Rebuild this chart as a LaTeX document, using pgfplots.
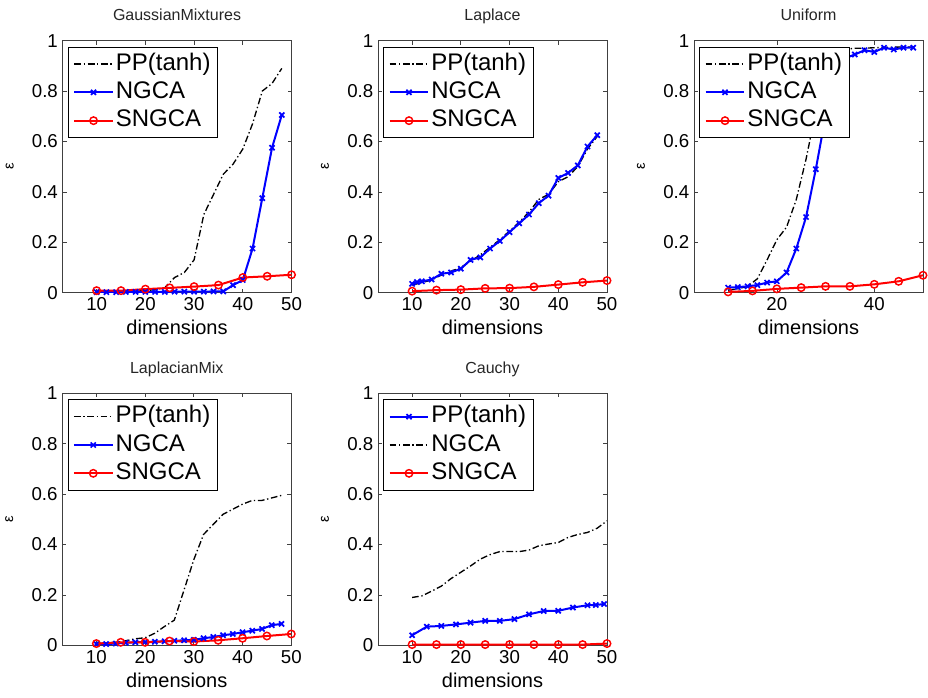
\documentclass[border=0pt]{standalone}
\usepackage{pgfplots}
\pgfplotsset{compat=1.18}
\usepackage{fontspec}
\setmainfont{Liberation Sans}

\pgfplotsset{
  myaxis/.style={
    scale only axis, width=171.75pt, height=189pt,
    xmin=3, xmax=50, ymin=0, ymax=1,
    xtick={10,20,30,40,50}, ytick={0,0.2,0.4,0.6,0.8,1},
    tick align=inside, major tick length=3pt,
    axis line style={line width=0.5pt, black!75},
    tick style={line width=0.5pt, black!75},
    /pgf/number format/assume math mode=true,
    tick label style={font=\fontsize{14}{16}\selectfont},
    xlabel={dimensions}, ylabel={ε},
    xlabel style={font=\fontsize{15}{17}\selectfont, at={(axis description cs:0.5,0)}, anchor=north, inner sep=0pt, yshift=-20.5pt},
    ylabel style={font=\fontsize{11}{13}\selectfont, at={(axis description cs:-0.231,0.5)}, anchor=center},
    title style={font=\fontsize{12}{14}\selectfont, text=black!85, at={(axis description cs:0.5,1)}, anchor=base, inner sep=0pt, yshift=9pt},
    legend style={at={(axis description cs:0,1)}, anchor=north west, xshift=4pt, yshift=-4.5pt,
      font=\fontsize{18}{21}\selectfont, draw=black, line width=0.5pt,
      inner xsep=3.75pt, inner ysep=4pt, row sep=3.75pt,
      nodes={text height=13.5pt, text depth=4pt, inner xsep=1.5pt, inner ysep=0pt}},
    legend cell align=left,
    legend image code/.code={\draw[mark repeat=2,mark phase=2,##1] plot coordinates {(0pt,0pt) (14.5pt,0pt) (29pt,0pt)};},
  },
  pp/.style={black, line width=1pt, dash pattern=on 5pt off 2pt on 1pt off 2pt, mark=none},
  ng/.style={blue, line width=1.5pt, mark=x, mark size=2.7pt, mark options={solid, line width=1.3pt}},
  sn/.style={red, line width=1.5pt, mark=o, mark size=2.8pt, mark options={solid, fill=none, line width=1.1pt}},
}

\begin{document}
\begin{tikzpicture}
\path[use as bounding box] (0,0) rectangle (696pt,523.5pt);

% ---------------- GaussianMixtures
\begin{axis}[myaxis, at={(46.9pt,304pt)}, anchor=south west, title={GaussianMixtures}]
\addplot[pp] coordinates {(10,0.003)(12,0.003)(14,0.004)(16,0.005)(18,0.006)(20,0.008)(22,0.012)(24,0.02)(26,0.06)(28,0.08)(30,0.13)(32,0.31)(34,0.39)(36,0.47)(38,0.51)(40,0.57)(42,0.67)(44,0.8)(46,0.83)(48,0.89)};
\addplot[ng] coordinates {(10,0.002)(12,0.002)(14,0.002)(16,0.003)(18,0.003)(20,0.003)(22,0.003)(24,0.003)(26,0.004)(28,0.004)(30,0.004)(32,0.004)(34,0.005)(36,0.005)(38,0.03)(40,0.05)(42,0.175)(44,0.375)(46,0.575)(48,0.705)};
\addplot[sn] coordinates {(10,0.008)(15,0.008)(20,0.014)(25,0.019)(30,0.024)(35,0.03)(40,0.06)(45,0.065)(50,0.071)};
\legend{PP(tanh),NGCA,SNGCA}
\end{axis}

% ---------------- Laplace
\begin{axis}[myaxis, at={(283.5pt,304pt)}, anchor=south west, title={Laplace}]
\addplot[pp] coordinates {(10,0.03)(12,0.04)(14,0.05)(16,0.07)(18,0.085)(20,0.1)(22,0.125)(24,0.15)(26,0.18)(28,0.21)(30,0.245)(32,0.28)(34,0.32)(36,0.37)(38,0.39)(40,0.44)(42,0.46)(44,0.5)(46,0.57)(48,0.62)};
\addplot[ng] coordinates {(10,0.035)(11,0.042)(12,0.045)(14,0.052)(16,0.075)(18,0.08)(20,0.095)(22,0.13)(24,0.14)(26,0.175)(28,0.205)(30,0.24)(32,0.275)(34,0.31)(36,0.355)(38,0.385)(40,0.455)(42,0.475)(44,0.505)(46,0.58)(48,0.625)};
\addplot[sn] coordinates {(10,0.006)(15,0.01)(20,0.012)(25,0.017)(30,0.018)(35,0.023)(40,0.032)(45,0.041)(50,0.048)};
\legend{PP(tanh),NGCA,SNGCA}
\end{axis}

% ---------------- Uniform
\begin{axis}[myaxis, at={(520.5pt,304pt)}, anchor=south west, title={Uniform}, xtick={20,40}]
\addplot[pp] coordinates {(10,0.01)(12,0.015)(14,0.025)(16,0.055)(18,0.13)(20,0.21)(22,0.26)(24,0.37)(26,0.53)(28,0.72)(30,0.88)(32,0.95)(34,0.965)(36,0.97)(38,0.97)(40,0.972)(42,0.973)(44,0.974)(46,0.975)(48,0.975)};
\addplot[ng] coordinates {(10,0.02)(12,0.022)(14,0.025)(16,0.03)(18,0.04)(20,0.045)(22,0.08)(24,0.175)(26,0.3)(28,0.49)(30,0.7)(32,0.88)(34,0.93)(36,0.945)(38,0.962)(40,0.955)(42,0.972)(44,0.965)(46,0.972)(48,0.972)};
\addplot[sn] coordinates {(10,0.003)(15,0.007)(20,0.015)(25,0.02)(30,0.025)(35,0.025)(40,0.033)(45,0.045)(50,0.069)};
\legend{PP(tanh),NGCA,SNGCA}
\end{axis}

% ---------------- LaplacianMix
\begin{axis}[myaxis, at={(46.7pt,39.5pt)}, anchor=south west, title={LaplacianMix}]
\addplot[pp] coordinates {(10,0.007)(12,0.009)(14,0.012)(16,0.018)(18,0.026)(20,0.03)(22,0.048)(24,0.075)(26,0.1)(28,0.22)(30,0.34)(32,0.44)(34,0.48)(36,0.52)(38,0.54)(40,0.56)(42,0.575)(44,0.575)(46,0.585)(48,0.595)};
\addplot[ng] coordinates {(10,0.005)(12,0.005)(14,0.007)(16,0.01)(18,0.012)(20,0.013)(22,0.014)(24,0.016)(26,0.018)(28,0.02)(30,0.022)(32,0.028)(34,0.033)(36,0.04)(38,0.045)(40,0.052)(42,0.058)(44,0.065)(46,0.08)(48,0.085)};
\addplot[sn] coordinates {(10,0.007)(15,0.012)(20,0.012)(25,0.017)(30,0.015)(35,0.02)(40,0.028)(45,0.037)(50,0.045)};
\legend{PP(tanh),NGCA,SNGCA}
\end{axis}

% ---------------- Cauchy
\begin{axis}[myaxis, at={(283.5pt,39.5pt)}, anchor=south west, title={Cauchy}]
\addplot[ng] coordinates {(10,0.04)(13,0.074)(16,0.077)(19,0.083)(22,0.09)(25,0.097)(28,0.097)(31,0.104)(34,0.123)(37,0.136)(40,0.137)(43,0.15)(46,0.159)(47.7,0.16)(49.4,0.164)};
\addplot[pp] coordinates {(10,0.19)(12,0.196)(14,0.215)(16,0.235)(18,0.265)(20,0.29)(22,0.315)(24,0.342)(26,0.36)(28,0.372)(30,0.372)(32,0.372)(34,0.378)(36,0.395)(38,0.402)(40,0.408)(42,0.428)(44,0.44)(46,0.448)(48,0.465)(50,0.494)};
\addplot[sn] coordinates {(10,0.003)(15,0.003)(20,0.003)(25,0.003)(30,0.003)(35,0.003)(40,0.003)(45,0.003)(50,0.007)};
\legend{PP(tanh),NGCA,SNGCA}
\end{axis}
\end{tikzpicture}
\end{document}
